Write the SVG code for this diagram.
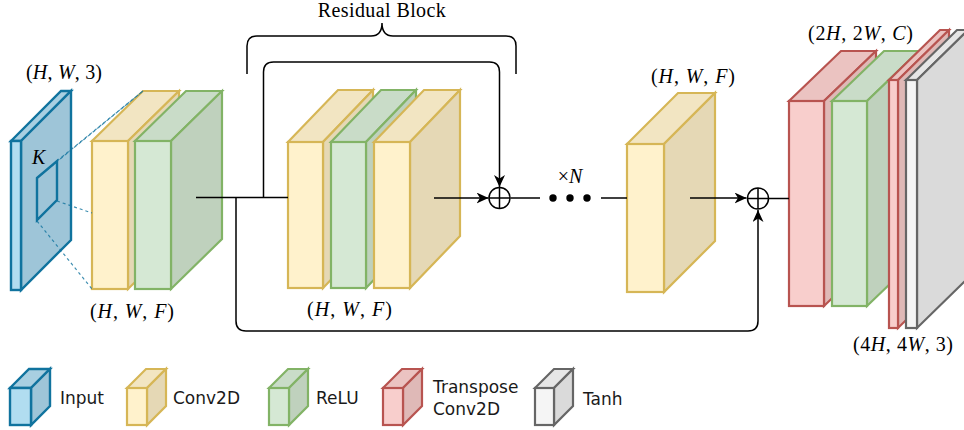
<svg xmlns="http://www.w3.org/2000/svg" width="964" height="430" viewBox="0 0 964 430">
<defs>
<marker id="arr" markerUnits="userSpaceOnUse" markerWidth="13" markerHeight="11" refX="12" refY="5.5" orient="auto">
<path d="M0,0 L12,5.5 L0,11 L3.5,5.5 Z" fill="#000"/>
</marker>
<style>
.b rect,.b polygon{stroke:#10739e;stroke-width:2.4;stroke-linejoin:miter}
.b .f{fill:#b1ddf0}.b .t{fill:#a8cfe1}.b .s{fill:#9ec5d8}
.y rect,.y polygon{stroke:#d6b656;stroke-width:2.2}
.y .f{fill:#fff2cc}.y .t{fill:#f2e5c2}.y .s{fill:#e5d8b5}
.g rect,.g polygon{stroke:#82b366;stroke-width:2.2}
.g .f{fill:#d5e8d4}.g .t{fill:#c9dcc8}.g .s{fill:#bfd1bd}
.r rect,.r polygon{stroke:#b85450;stroke-width:2.2}
.r .f{fill:#f8cecc}.r .t{fill:#ebc3c1}.r .s{fill:#dfb9b7}
.k rect,.k polygon{stroke:#666666;stroke-width:2.2}
.k .f{fill:#f5f5f5}.k .t{fill:#e6e6e6}.k .s{fill:#dadada}
.m{font-family:"Liberation Serif","Times New Roman",serif;font-size:20px;fill:#000}
.m tspan.i{font-style:italic}
.lg{font-family:"DejaVu Sans",Verdana,sans-serif;font-size:17px;fill:#1a1a1a}
.ln{fill:none;stroke:#000;stroke-width:1.5}
.dl{fill:none;stroke:#10739e;stroke-width:1.2;stroke-dasharray:3 3;opacity:0.8}
</style>
</defs>
<rect width="964" height="430" fill="#fff"/>

<g id="input" class="b">
<polygon class="t" points="11,141 61,91 71,91 21,141"/>
<polygon class="s" points="21,141 71,91 71,240 21,290"/>
<rect class="f" x="11" y="141" width="10" height="149"/>
<polygon points="37,178 57,161 57,200 37,220" fill="none" stroke-width="2.6"/>
<text class="m" x="32" y="164" font-style="italic" font-size="19">K</text>
</g>

<g id="conv1" class="y">
<polygon class="t" points="92,141 143,91 179,91 128,141"/>
<polygon class="s" points="128,141 179,91 179,239 128,289"/>
<rect class="f" x="92" y="141" width="36" height="148"/>
</g>
<g id="relu1" class="g">
<polygon class="t" points="135,141 186,91 222,91 171,141"/>
<polygon class="s" points="171,141 222,91 222,239 171,289"/>
<rect class="f" x="135" y="141" width="36" height="148"/>
</g>
<g id="kernel-proj">
<line class="dl" x1="37" y1="178" x2="143" y2="91"/>
<line class="dl" x1="57" y1="161" x2="143" y2="91"/>
<line class="dl" x1="57" y1="201" x2="92" y2="213"/>
<line class="dl" x1="37" y1="221" x2="92" y2="289"/>
</g>

<g id="res-conv1" class="y">
<polygon class="t" points="288,142 338,90 373,90 323,142"/>
<polygon class="s" points="323,142 373,90 373,236 323,288"/>
<rect class="f" x="288" y="142" width="35" height="146"/>
</g>
<g id="res-relu" class="g">
<polygon class="t" points="331,142 381,90 416,90 366,142"/>
<polygon class="s" points="366,142 416,90 416,236 366,288"/>
<rect class="f" x="331" y="142" width="35" height="146"/>
</g>
<g id="res-conv2" class="y">
<polygon class="t" points="374,142 424,90 460,90 410,142"/>
<polygon class="s" points="410,142 460,90 460,236 410,288"/>
<rect class="f" x="374" y="142" width="36" height="146"/>
</g>

<g id="conv3" class="y">
<polygon class="t" points="627,144 678,93 715,93 664,144"/>
<polygon class="s" points="664,144 715,93 715,241 664,292"/>
<rect class="f" x="627" y="144" width="37" height="148"/>
</g>

<g id="tconv1" class="r">
<polygon class="t" points="789,101 841,51 876,51 824,101"/>
<polygon class="s" points="824,101 876,51 876,256 824,306"/>
<rect class="f" x="789" y="101" width="35" height="205"/>
</g>
<g id="relu2" class="g">
<polygon class="t" points="832,101 884,51 919,51 867,101"/>
<polygon class="s" points="867,101 919,51 919,256 867,306"/>
<rect class="f" x="832" y="101" width="35" height="205"/>
</g>
<g id="tconv2" class="r">
<polygon class="t" points="889,80 940,30 949,30 898,80"/>
<polygon class="s" points="898,80 949,30 949,278 898,328"/>
<rect class="f" x="889" y="80" width="9" height="248"/>
</g>
<g id="tanh" class="k">
<polygon class="t" points="906,80 957,30 968,30 917,80"/>
<polygon class="s" points="917,80 968,30 968,278 917,328"/>
<rect class="f" x="906" y="80" width="11" height="248"/>
</g>

<g id="connectors">
<path class="ln" d="M196,197.5 H288"/>
<path class="ln" d="M263.5,197.5 V72 Q263.5,62 273.5,62 H489.5 Q499.5,62 499.5,72 V187" marker-end="url(#arr)"/>
<path class="ln" d="M236,197.5 V321 Q236,331 246,331 H748 Q758,331 758,321 V210" marker-end="url(#arr)"/>
<path class="ln" d="M434,198 H488.5" marker-end="url(#arr)"/>
<path class="ln" d="M510.5,198 H540"/>
<path class="ln" d="M601,198 H627"/>
<path class="ln" d="M690,198 H746.5" marker-end="url(#arr)"/>
<path class="ln" d="M768.5,198.5 H789"/>
<path class="ln" d="M247,74 V46 Q247,36 257,36 H371 Q382,36 382,23 Q382,36 393,36 H506 Q516,36 516,46 V74"/>
</g>

<g id="add1">
<circle cx="499.5" cy="198" r="10.5" fill="#fff" stroke="#000" stroke-width="1.5"/>
<path class="ln" d="M489,198 H510 M499.5,187.5 V208.5"/>
</g>
<g id="add2">
<circle cx="758" cy="198.5" r="10.5" fill="#fff" stroke="#000" stroke-width="1.5"/>
<path class="ln" d="M747.5,198.5 H768.5 M758,188 V209"/>
</g>
<g id="dots">
<circle cx="553" cy="198" r="3.7"/>
<circle cx="570" cy="198" r="3.7"/>
<circle cx="587" cy="198" r="3.7"/>
</g>

<g id="labels">
<text class="m" x="382" y="17" text-anchor="middle" letter-spacing="0.4">Residual Block</text>
<text class="m" x="26" y="79" textLength="76" lengthAdjust="spacing">(<tspan class="i">H</tspan>, <tspan class="i">W</tspan>, 3)</text>
<text class="m" x="90" y="318" textLength="84" lengthAdjust="spacing">(<tspan class="i">H</tspan>, <tspan class="i">W</tspan>, <tspan class="i">F</tspan>)</text>
<text class="m" x="307" y="316" textLength="85" lengthAdjust="spacing">(<tspan class="i">H</tspan>, <tspan class="i">W</tspan>, <tspan class="i">F</tspan>)</text>
<text class="m" x="651" y="83" textLength="84" lengthAdjust="spacing">(<tspan class="i">H</tspan>, <tspan class="i">W</tspan>, <tspan class="i">F</tspan>)</text>
<text class="m" x="808" y="40" textLength="105" lengthAdjust="spacing">(2<tspan class="i">H</tspan>, 2<tspan class="i">W</tspan>, <tspan class="i">C</tspan>)</text>
<text class="m" x="853" y="351" textLength="100" lengthAdjust="spacing">(4<tspan class="i">H</tspan>, 4<tspan class="i">W</tspan>, 3)</text>
<text class="m" x="570" y="183" text-anchor="middle">×<tspan class="i">N</tspan></text>
</g>

<g id="legend-input" class="b">
<polygon class="t" points="10,388 29,369 50,369 31,388"/>
<polygon class="s" points="31,388 50,369 50,406 31,425"/>
<rect class="f" x="10" y="388" width="21" height="37"/>
<text class="lg" x="60" y="404">Input</text>
</g>
<g id="legend-conv" class="y">
<polygon class="t" points="127,388 146,369 166,369 147,388"/>
<polygon class="s" points="147,388 166,369 166,406 147,425"/>
<rect class="f" x="127" y="388" width="20" height="37"/>
<text class="lg" x="173" y="404">Conv2D</text>
</g>
<g id="legend-relu" class="g">
<polygon class="t" points="269,388 288,369 308,369 289,388"/>
<polygon class="s" points="289,388 308,369 308,406 289,425"/>
<rect class="f" x="269" y="388" width="20" height="37"/>
<text class="lg" x="316" y="404">ReLU</text>
</g>
<g id="legend-tconv" class="r">
<polygon class="t" points="383,388 402,369 422,369 403,388"/>
<polygon class="s" points="403,388 422,369 422,406 403,425"/>
<rect class="f" x="383" y="388" width="20" height="37"/>
<text class="lg" x="433" y="393">Transpose</text>
<text class="lg" x="433" y="415">Conv2D</text>
</g>
<g id="legend-tanh" class="k">
<polygon class="t" points="535,388 554,369 573,369 554,388"/>
<polygon class="s" points="554,388 573,369 573,406 554,425"/>
<rect class="f" x="535" y="388" width="19" height="37"/>
<text class="lg" x="583" y="405">Tanh</text>
</g>
</svg>
